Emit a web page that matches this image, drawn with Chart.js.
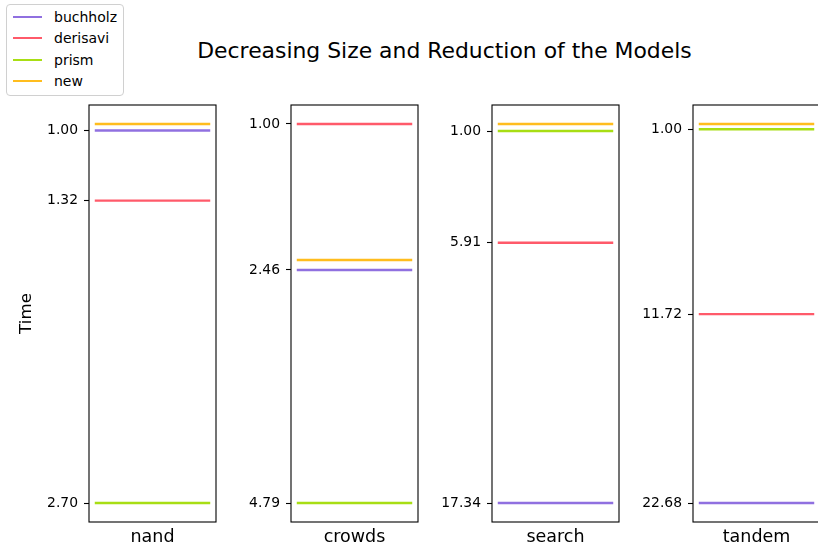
<!DOCTYPE html>
<html>
<head>
<meta charset="utf-8">
<script src="https://cdn.jsdelivr.net/npm/chart.js@4/dist/chart.umd.min.js"></script>
<style>
  html, body { margin: 0; padding: 0; background: #fff; overflow: hidden; }
  #wrap { position: relative; width: 818px; height: 545px; overflow: hidden; font-family: 'DejaVu Sans', sans-serif; }
  canvas.panel { position: absolute; left: 0; top: 0; }
  #title { position: absolute; top: 40px; left: 0; width: 889px; text-align: center; font-size: 21.9px; line-height: 1; color: #000; white-space: nowrap; }
  #legend { position: absolute; left: 6px; top: 4px; width: 116px; height: 90px; border: 1px solid #d0d0d0; border-radius: 4px; background: rgba(255,255,255,0.8); }
  .row { position: absolute; left: 0; height: 20px; width: 116px; }
  .swatch { position: absolute; left: 6px; top: 9px; width: 29px; height: 2px; }
  .lbl { position: absolute; left: 47px; top: 1px; font-size: 14px; line-height: 18px; color: #000; }
</style>
</head>
<body>
<div id="wrap">
  <div id="title">Decreasing Size and Reduction of the Models</div>
  <div id="legend"></div>
</div>
<script>
// Models and the time of each tool, per model
const models = ['nand', 'crowds', 'search', 'tandem'];
const buchholz = [1.00, 2.46, 17.34, 22.68];
const derisavi = [1.32, 1.00, 5.91, 11.72];
const prism = [2.70, 4.79, 1.00, 1.00];
const newTool = [0.97, 2.36, 0.69, 0.69];
const tickLabels = [
  ['1.00', '1.32', '2.70'],
  ['1.00', '2.46', '4.79'],
  ['1.00', '5.91', '17.34'],
  ['1.00', '11.72', '22.68']
];
const tickValues = tickLabels.map(row => row.map(Number));

const seriesNames = ['buchholz', 'derisavi', 'prism', 'new'];
const seriesData = [buchholz, derisavi, prism, newTool];
const seriesColors = ['#9070e0', '#ff5a6a', '#a8de14', '#ffbd1e'];

// Panel geometry (plot frame left edges, shared width, top and bottom)
const frameLeft = [89, 291, 492, 693];
const frameWidth = 127;
const canvasW = 840, canvasH = 545;
const areaTop = 105, areaBottom = 522;

const font = 'DejaVu Sans';

// Legend
const legend = document.getElementById('legend');
seriesNames.forEach((name, i) => {
  const row = document.createElement('div');
  row.className = 'row';
  row.style.top = (2 + i * 21.4) + 'px';
  const sw = document.createElement('div');
  sw.className = 'swatch';
  sw.style.background = seriesColors[i];
  const lb = document.createElement('div');
  lb.className = 'lbl';
  lb.textContent = name;
  row.appendChild(sw);
  row.appendChild(lb);
  legend.appendChild(row);
});

// Black box around each plot area
const framePlugin = {
  id: 'frame',
  afterDatasetsDraw(chart) {
    const a = chart.chartArea;
    const ctx = chart.ctx;
    ctx.save();
    ctx.strokeStyle = '#000';
    ctx.lineWidth = 1.1;
    ctx.strokeRect(a.left, a.top, a.right - a.left, a.bottom - a.top);
    ctx.restore();
  }
};

const wrap = document.getElementById('wrap');
models.forEach((model, m) => {
  const canvas = document.createElement('canvas');
  canvas.className = 'panel';
  canvas.width = canvasW;
  canvas.height = canvasH;
  canvas.style.width = canvasW + 'px';
  canvas.style.height = canvasH + 'px';
  wrap.appendChild(canvas);

  const vals = seriesData.map(s => s[m]);
  const lo = Math.min(...vals), hi = Math.max(...vals);
  const pad = (hi - lo) * 0.05;
  const axisW = m === 0 ? frameLeft[0] : 60;

  new Chart(canvas, {
    type: 'line',
    data: {
      datasets: seriesNames.map((name, i) => ({
        label: name,
        data: [{ x: 0, y: seriesData[i][m] }, { x: 1, y: seriesData[i][m] }],
        borderColor: seriesColors[i],
        backgroundColor: seriesColors[i],
        borderWidth: 2.4,
        pointRadius: 0,
        tension: 0,
        fill: false
      }))
    },
    options: {
      responsive: false,
      animation: false,
      devicePixelRatio: 1,
      events: [],
      layout: {
        padding: {
          left: frameLeft[m] - axisW,
          right: canvasW - frameLeft[m] - frameWidth,
          top: areaTop,
          bottom: 0
        }
      },
      plugins: { legend: { display: false }, tooltip: { enabled: false }, title: { display: false } },
      scales: {
        x: {
          type: 'linear',
          min: -0.05,
          max: 1.05,
          grid: { display: false },
          border: { display: false },
          ticks: { display: false },
          title: {
            display: true,
            text: model,
            color: '#000',
            font: { family: font, size: 17.5, lineHeight: 0.75 },
            padding: { top: 0, bottom: 1 }
          },
          afterFit(scale) { scale.height = canvasH - areaBottom; }
        },
        y: {
          type: 'linear',
          reverse: true,
          min: lo - pad,
          max: hi + pad,
          border: { display: false },
          grid: {
            display: true,
            drawOnChartArea: false,
            drawTicks: true,
            tickLength: 5,
            tickColor: '#000',
            tickWidth: 1.1
          },
          ticks: {
            autoSkip: false,
            color: '#000',
            padding: 6,
            font: { family: font, size: 13.9 },
            callback: (v, i) => tickLabels[m][i]
          },
          afterBuildTicks(scale) {
            scale.ticks = tickValues[m].map(v => ({ value: v }));
          },
          title: {
            display: m === 0,
            text: 'Time',
            color: '#000',
            font: { family: font, size: 16.7 },
            padding: { top: 17, bottom: 0 }
          },
          afterFit(scale) { scale.width = axisW; }
        }
      }
    },
    plugins: [framePlugin]
  });
});
</script>
</body>
</html>
